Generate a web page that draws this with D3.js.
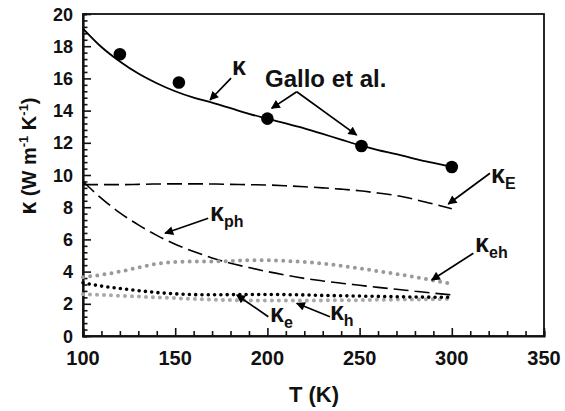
<!DOCTYPE html>
<html>
<head>
<meta charset="utf-8">
<script src="https://cdnjs.cloudflare.com/ajax/libs/d3/7.8.5/d3.min.js"></script>
<style>
body { margin: 0; background: #fff; }
svg { font-family: "Liberation Sans", Arial, sans-serif; font-weight: bold; }
</style>
</head>
<body>
<div id="chart"></div>
<script>
// temperature grid for the model curves
var temps = [100, 110, 120, 130, 140, 150, 160, 170, 180, 190, 200,
             210, 220, 230, 240, 250, 260, 270, 280, 290, 300];
var kappa = [19.1, 17.95, 17.05, 16.3, 15.7, 15.2, 14.8, 14.5, 14.15, 13.8, 13.5,
             13.2, 12.9, 12.55, 12.2, 11.85, 11.55, 11.3, 11.0, 10.75, 10.5];
var kappaE = [9.4, 9.4, 9.4, 9.42, 9.44, 9.45, 9.45, 9.44, 9.42, 9.4, 9.38,
              9.33, 9.27, 9.2, 9.12, 9.02, 8.88, 8.72, 8.48, 8.2, 7.9];
var kappaPh = [9.6, 8.55, 7.65, 6.9, 6.25, 5.7, 5.25, 4.85, 4.52, 4.25, 4.0,
               3.78, 3.58, 3.42, 3.28, 3.15, 3.02, 2.9, 2.78, 2.66, 2.55];
var kappaEh = [3.65, 3.8, 4.0, 4.25, 4.48, 4.6, 4.63, 4.63, 4.66, 4.7, 4.7,
               4.66, 4.6, 4.5, 4.36, 4.2, 4.02, 3.85, 3.66, 3.45, 3.25];
var kappaEl = [3.3, 3.1, 2.95, 2.82, 2.7, 2.62, 2.57, 2.56, 2.57, 2.58, 2.58,
               2.57, 2.55, 2.52, 2.5, 2.48, 2.46, 2.44, 2.42, 2.41, 2.4];
var kappaH = [2.6, 2.55, 2.5, 2.45, 2.4, 2.35, 2.3, 2.26, 2.23, 2.21, 2.2,
              2.2, 2.2, 2.21, 2.22, 2.23, 2.25, 2.26, 2.27, 2.28, 2.3];

// measured points (Gallo et al.)
var galloT = [120, 152, 200, 251, 300];
var galloK = [17.5, 15.75, 13.5, 11.8, 10.5];

// tick labels
var xTicks = [100, 150, 200, 250, 300, 350];
var yTicks = [0, 2, 4, 6, 8, 10, 12, 14, 16, 18, 20];

var w = 565,
    h = 411,
    padL = 83, padR = 544, padT = 14, padB = 336;

var svg = d3.select('#chart')
            .append('svg')
            .attr('width', w)
            .attr('height', h);

var x = d3.scaleLinear().domain([100, 350]).range([padL, padR]);
var y = d3.scaleLinear().domain([0, 20]).range([padB, padT]);

// arrow head
svg.append('defs').append('marker')
   .attr('id', 'head')
   .attr('viewBox', '0 0 10 10')
   .attr('refX', 9).attr('refY', 5)
   .attr('markerUnits', 'userSpaceOnUse')
   .attr('markerWidth', 11).attr('markerHeight', 9)
   .attr('orient', 'auto')
   .append('path')
   .attr('d', 'M0,0 L10,5 L0,10 z')
   .attr('fill', '#000');

// frame
svg.append('rect')
   .attr('x', padL).attr('y', padT)
   .attr('width', padR - padL).attr('height', padB - padT)
   .attr('fill', 'none').attr('stroke', '#111').attr('stroke-width', 1.8);

// axes with ticks pointing inward
var xAxis = d3.axisTop(x).tickValues(d3.range(100, 351, 10)).tickSize(5).tickFormat('');
var gx = svg.append('g').attr('transform', 'translate(0,' + padB + ')').call(xAxis);
gx.selectAll('.tick line').attr('stroke', '#111').attr('stroke-width', 1.6)
  .attr('y2', function(d){ return d % 50 === 0 ? -8 : -5; });
gx.select('.domain').attr('stroke', '#111').attr('stroke-width', 2.2);

var yAxis = d3.axisRight(y).tickValues(d3.range(0, 20.01, 0.4)).tickSize(4).tickFormat('');
var gy = svg.append('g').attr('transform', 'translate(' + padL + ',0)').call(yAxis);
gy.selectAll('.tick line').attr('stroke', '#111').attr('stroke-width', 1.6)
  .attr('x2', function(d){ return Math.abs(d / 2 - Math.round(d / 2)) < 0.01 ? 8 : 4.5; });
gy.select('.domain').attr('stroke', '#111').attr('stroke-width', 2.2);

// tick labels
svg.selectAll('text.xl')
   .data(xTicks)
   .enter()
   .append('text')
   .attr('class', 'xl')
   .attr('x', function(d){ return x(d); })
   .attr('y', 365)
   .attr('text-anchor', 'middle')
   .attr('font-size', '20px')
   .attr('fill', '#111')
   .text(function(d){ return d; });

svg.selectAll('text.yl')
   .data(yTicks)
   .enter()
   .append('text')
   .attr('class', 'yl')
   .attr('x', 73)
   .attr('y', function(d){ return y(d) + 6.5; })
   .attr('text-anchor', 'end')
   .attr('font-size', '18px')
   .attr('fill', '#111')
   .text(function(d){ return d; });

// axis titles
svg.append('text')
   .attr('x', 314).attr('y', 402)
   .attr('text-anchor', 'middle')
   .attr('font-size', '22px')
   .attr('fill', '#111')
   .text('T (K)');

var yt = svg.append('text')
   .attr('transform', 'translate(36,156) rotate(-90)')
   .attr('text-anchor', 'middle')
   .attr('font-size', '20px')
   .attr('fill', '#111');
yt.append('tspan').attr('font-size', '23px').text('\u03ba');
yt.append('tspan').text(' (W m');
yt.append('tspan').attr('font-size', '13px').attr('dy', -8).text('-1');
yt.append('tspan').attr('dy', 8).text(' K');
yt.append('tspan').attr('font-size', '13px').attr('dy', -8).text('-1');
yt.append('tspan').attr('dy', 8).text(')');

// curves
var line = d3.line()
             .x(function(d){ return x(d[0]); })
             .y(function(d){ return y(d[1]); })
             .curve(d3.curveMonotoneX);

function pairs(vals){ return temps.map(function(t, i){ return [t, vals[i]]; }); }

var series = [
  {vals: kappa,   color: '#000', width: 1.8, dash: null,     cap: 'butt'},
  {vals: kappaE,  color: '#000', width: 1.6, dash: '15,6',   cap: 'butt'},
  {vals: kappaPh, color: '#000', width: 1.6, dash: '15,6',   cap: 'butt'},
  {vals: kappaEh, color: '#9a9a9a', width: 4, dash: '0,7.2', cap: 'round'},
  {vals: kappaH,  color: '#a8a8a8', width: 4, dash: '0,7',   cap: 'round'},
  {vals: kappaEl, color: '#000', width: 3.6, dash: '0,6.3',  cap: 'round'}
];

svg.selectAll('path.curve')
   .data(series)
   .enter()
   .append('path')
   .attr('class', 'curve')
   .attr('d', function(d){ return line(pairs(d.vals)); })
   .attr('fill', 'none')
   .attr('stroke', function(d){ return d.color; })
   .attr('stroke-width', function(d){ return d.width; })
   .attr('stroke-dasharray', function(d){ return d.dash; })
   .attr('stroke-linecap', function(d){ return d.cap; });

// gallo points
svg.selectAll('circle')
   .data(galloT)
   .enter()
   .append('circle')
   .attr('cx', function(d){ return x(d); })
   .attr('cy', function(d, i){ return y(galloK[i]); })
   .attr('r', 6.3)
   .attr('fill', '#000');

// annotations: arrows in data units [t1, k1, t2, k2]
var arrows = [
  [180.3, 16.02, 168.9, 14.66],
  [215.9, 15.17, 202.3, 14.14],
  [215.9, 15.17, 248.4, 12.48],
  [320.7, 10.11, 298.1, 8.2],
  [167.9, 7.31, 144.5, 6.38],
  [311.7, 5.14, 289.1, 3.48],
  [200.5, 1.2, 183.4, 2.55],
  [233.9, 1.2, 215.9, 2.03]
];

svg.selectAll('line.arrow')
   .data(arrows)
   .enter()
   .append('line')
   .attr('class', 'arrow')
   .attr('x1', function(d){ return x(d[0]); })
   .attr('y1', function(d){ return y(d[1]); })
   .attr('x2', function(d){ return x(d[2]); })
   .attr('y2', function(d){ return y(d[3]); })
   .attr('stroke', '#000')
   .attr('stroke-width', 1.7)
   .attr('marker-end', 'url(#head)');

// labels: [t, k, subscript]
var labels = [
  [180.8, 16.21, ''],
  [321.3, 9.5, 'E'],
  [168.9, 7.14, 'ph'],
  [312.6, 5.22, 'eh'],
  [201.4, 0.87, 'e'],
  [233.9, 0.99, 'h']
];

var lab = svg.selectAll('text.lab')
   .data(labels)
   .enter()
   .append('text')
   .attr('class', 'lab')
   .attr('x', function(d){ return x(d[0]); })
   .attr('y', function(d){ return y(d[1]); })
   .attr('font-size', '25px')
   .attr('fill', '#111');
lab.append('tspan').text('\u03ba');
lab.append('tspan')
   .attr('font-size', '16px')
   .attr('dy', 6)
   .text(function(d){ return d[2]; });

svg.append('text')
   .attr('x', x(198.7)).attr('y', y(15.47))
   .attr('font-size', '24px')
   .attr('fill', '#111')
   .text('Gallo et al.');
</script>
</body>
</html>
